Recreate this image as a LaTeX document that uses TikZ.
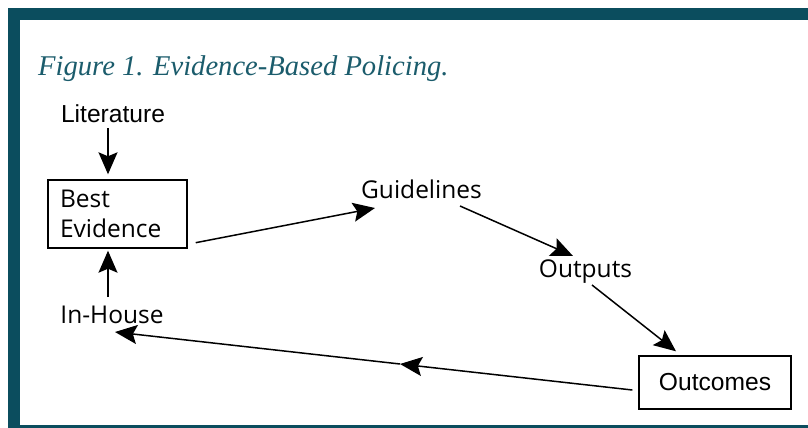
\documentclass[tikz,border=0pt]{standalone}
\usepackage{fontspec}
\setmainfont{Liberation Sans}
\newfontfamily\humfont{Open Sans}
\newfontfamily\titfont{Liberation Serif}
\usetikzlibrary{arrows.meta}
\definecolor{teal1}{HTML}{0B4D5E}
\definecolor{titcol}{HTML}{1B5C6C}
\begin{document}
\begin{tikzpicture}[x=1pt,y=1pt,
  arr/.style={line width=1.5pt,-{Stealth[length=22pt,width=19pt,inset=4pt]}},
  txtA/.style={inner sep=0pt,font=\fontsize{24.6}{28}\selectfont},
  txtH/.style={inner sep=0pt,font=\humfont\fontsize{24.5}{30}\selectfont},
  box/.style={draw,line width=1.4pt}]
\useasboundingbox (0,0) rectangle (808,-428);
\fill[white] (0,0) rectangle (808,-428);
% frame
\fill[teal1] (8,-8) rectangle (808,-20);
\fill[teal1] (8,-8) rectangle (20,-428);
\fill[teal1] (8,-425) rectangle (808,-428);
% title
\node[anchor=base west,inner sep=0pt,text=titcol,font=\titfont\itshape\fontsize{28.6}{30}\selectfont] (title) at (38,-75) {Figure 1. Evidence-Based Policing.};
% nodes
\node[txtA,anchor=base] (lit) at (113,-122) {Literature};
\node[box,txtH,minimum width=139pt,minimum height=68pt,text width=115pt,inner xsep=12pt,align=left] (be) at (117.5,-214) {Best\\Evidence};
\node[txtH,anchor=base] (guid) at (421.5,-198) {Guidelines};
\node[txtH,anchor=base] (outp) at (585.5,-277) {Outputs};
\node[txtH,anchor=base] (inh) at (112,-323) {In-House};
\node[box,txtA,minimum width=152pt,minimum height=53pt] (outc) at (715,-382.5) {Outcomes};
\coordinate (mid) at (400,-364);
% connectors
\draw[arr] ([shift={(-5,-6)}]lit.base) -- ([shift={(-9.5,5)}]be.north);
\draw[arr] ([shift={(8,6)}]be.south east) -- ([shift={(-46.5,-10)}]guid.base);
\draw[arr] ([shift={(38.5,-8)}]guid.base) -- ([shift={(-12.5,21)}]outp.base);
\draw[arr] ([shift={(6.5,-8)}]outp.base) -- ([shift={(-39,4)}]outc.north);
\draw[arr] ([shift={(-6,-7.5)}]outc.west) -- (mid);
\draw[arr] (mid) -- ([shift={(3,-9)}]inh.base);
\draw[arr] ([shift={(-4,26)}]inh.base) -- ([shift={(-9.5,-2)}]be.south);
\end{tikzpicture}
\end{document}
